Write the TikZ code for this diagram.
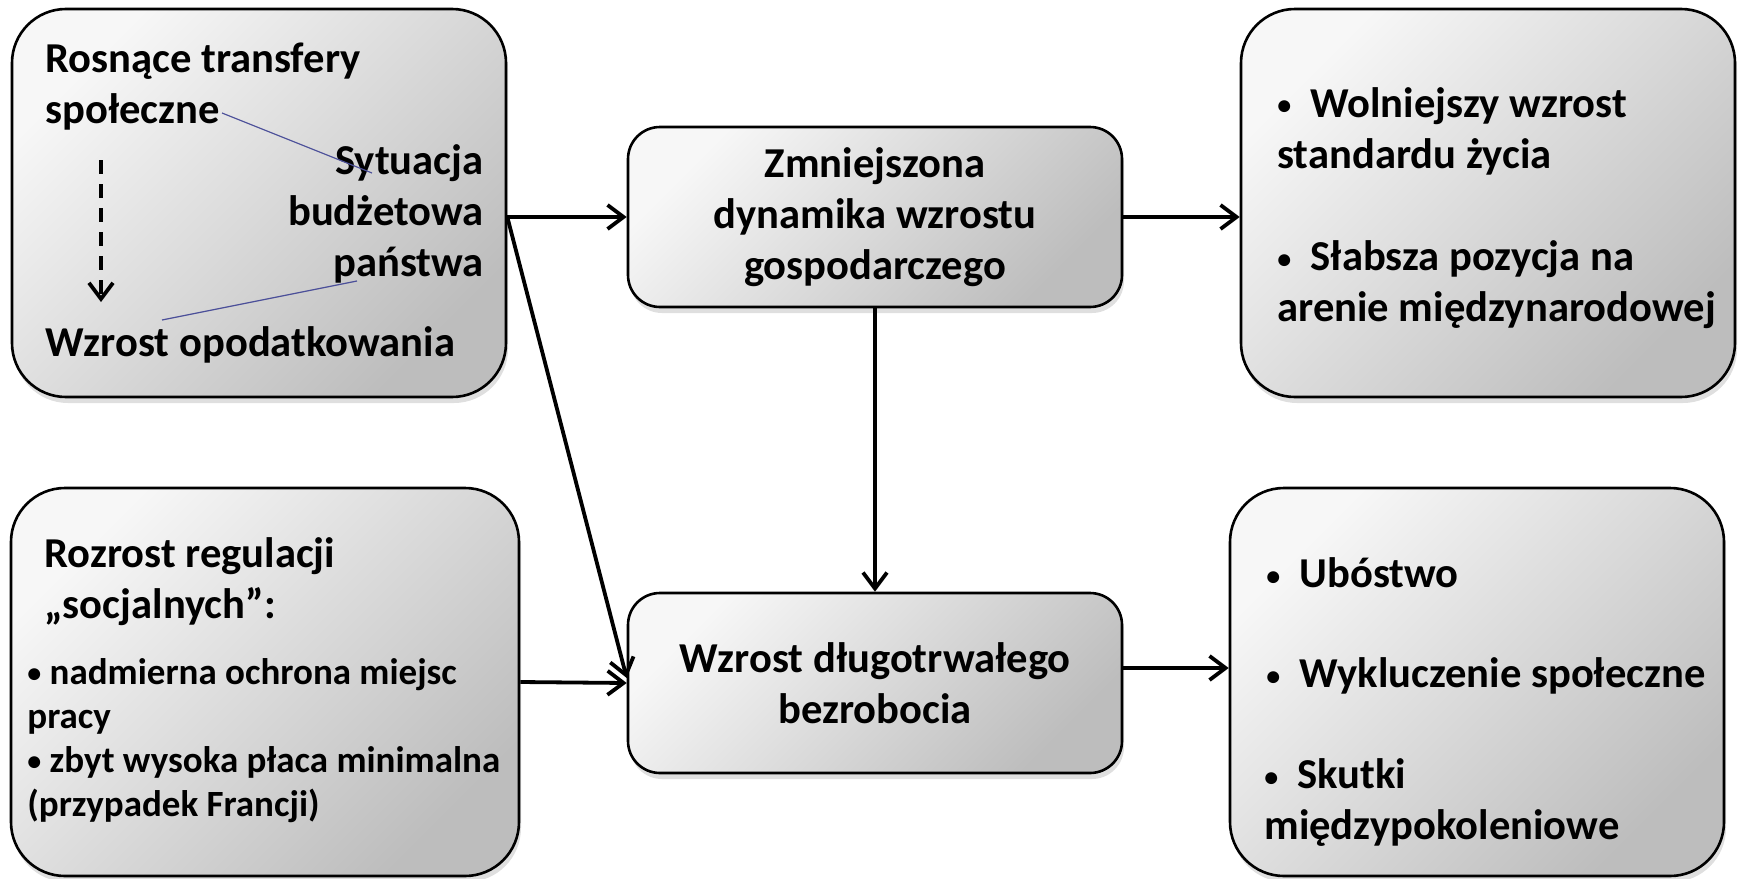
\documentclass[tikz,border=0pt]{standalone}
\usepackage{fontspec}
\setmainfont{Carlito}
\usetikzlibrary{arrows.meta, positioning, shadows, calc}
\definecolor{boxlight}{HTML}{F7F7F7}
\definecolor{boxdark}{HTML}{BDBDBD}
\definecolor{linkblue}{HTML}{4B4F99}
\newcommand{\dotmark}{\raisebox{0.12ex}{\fontsize{14}{14}\selectfont •}}

\begin{document}
\begin{tikzpicture}[
  x=0.5pt, y=-0.5pt,
  every node/.style={font=\fontsize{21.3}{25.5}\selectfont\bfseries, inner sep=0pt},
  panel/.style={rectangle, rounded corners=27pt, draw=black, line width=1.3pt,
    top color=boxlight, bottom color=boxdark, shading angle=45,
    drop shadow={shadow xshift=1pt, shadow yshift=-3pt, opacity=0.25},
    minimum width=247pt, minimum height=194pt},
  midpanel/.style={panel, rounded corners=16pt, minimum height=90pt},
  flow/.style={line width=1.9pt, -{Straight Barb[length=8pt, width=12pt, line width=1.9pt]}},
  link/.style={linkblue, line width=0.6pt},
  small/.style={font=\fontsize{18.5}{22}\selectfont\bfseries},
]
\useasboundingbox (0,0) rectangle (1738,878);

% boxes
\node[panel] (budget) at (259, 203) {};
\node[panel] (living) at (1488, 203) {};
\node[panel, minimum width=254pt] (regul) at (265, 682) {};
\node[panel] (poverty) at (1477, 682) {};
\node[midpanel] (growth) at (875, 217) {};
\node[midpanel] (unempl) at (875, 683) {};

% texts, top left
\node[anchor=west, align=left] (transfers) at (45, 87) {Rosnące transfery\\społeczne};
\node[anchor=east, align=right] (state) at (484, 214) {Sytuacja\\budżetowa\\państwa};
\node[anchor=west] (taxes) at (45, 345) {Wzrost opodatkowania};
\coordinate (dashtop) at (101, 160);
\coordinate (dashend) at (101, 302);
\draw[line width=1.9pt, dash pattern=on 7pt off 5pt, -{Straight Barb[length=8pt, width=12pt, line width=1.9pt]}] (dashtop) -- (dashend);
\coordinate (linkA) at (222, 113);
\coordinate (linkB) at (372, 173);
\coordinate (linkC) at (357, 281);
\coordinate (linkD) at (162, 320);
\draw[link] (linkA) -- (linkB);
\draw[link] (linkC) -- (linkD);

% texts, middle
\node[align=center] (growthtxt) at (growth.center) {Zmniejszona\\dynamika wzrostu\\gospodarczego};
\node[align=center] (unempltxt) at (unempl.center) {Wzrost długotrwałego\\bezrobocia};

% texts, right
\node[anchor=west, align=left] (slower) at (1277, 131) {\dotmark\ \ Wolniejszy wzrost\\standardu życia};
\node[anchor=west, align=left] (weaker) at (1277, 285) {\dotmark\ \ Słabsza pozycja na\\arenie międzynarodowej};
\node[anchor=west] (poor) at (1266, 573) {\dotmark\ \ Ubóstwo};
\node[anchor=west] (exclusion) at (1266, 676) {\dotmark\ \ Wykluczenie społeczne};
\node[anchor=west, align=left] (generations) at (1264, 803) {\dotmark\ \ Skutki\\międzypokoleniowe};

% texts, bottom left
\node[anchor=west, align=left] (rules) at (44, 582) {Rozrost regulacji\\„socjalnych”:};
\node[anchor=west, align=left, small] (ruleslist) at (27, 741) {\dotmark\ nadmierna ochrona miejsc\\pracy\\\dotmark\ zbyt wysoka płaca minimalna\\(przypadek Francji)};

% connectors
\coordinate (budgetout) at (budget.east |- growth.west);
\coordinate (unemplin) at ($(unempl.west)+(0,-5)$);
\coordinate (unemplout) at ($(unempl.east)+(0,-15)$);
\draw[flow] (budgetout) -- (growth.west);
\draw[flow] (budgetout) -- (unemplin);
\draw[flow] (regul.east) -- (unempl.west);
\draw[flow] (growth.south) -- (unempl.north);
\draw[flow] (growth.east) -- (growth.east -| living.west);
\draw[flow] (unemplout) -- (unemplout -| poverty.west);

\end{tikzpicture}
\end{document}
